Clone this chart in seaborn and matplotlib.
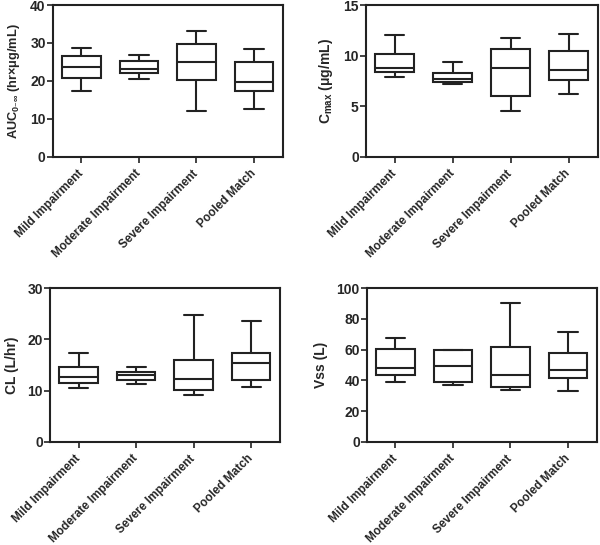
import matplotlib
matplotlib.use("Agg")
import matplotlib.pyplot as plt
import pandas as pd
import seaborn as sns

sns.set_theme(style="ticks")
plt.rcParams["font.family"] = ["Liberation Sans", "DejaVu Sans"]
plt.rcParams["font.weight"] = "bold"
plt.rcParams["mathtext.default"] = "regular"

groups = ["Mild Impairment", "Moderate Impairment", "Severe Impairment", "Pooled Match"]

# five-number summaries per group: min, Q1, median, Q3, max
auc = [[17.4, 20.8, 23.7, 26.5, 28.6],
       [20.4, 22.2, 23.0, 25.2, 26.8],
       [12.1, 20.3, 24.9, 29.8, 33.2],
       [12.7, 17.4, 19.7, 25.1, 28.4]]
cmax = [[7.85, 8.38, 8.74, 10.2, 12.0],
        [7.16, 7.39, 7.72, 8.3, 9.4],
        [4.55, 5.97, 8.77, 10.68, 11.74],
        [6.23, 7.56, 8.55, 10.42, 12.17]]
cl = [[10.6, 11.4, 12.7, 14.6, 17.35],
      [11.2, 12.0, 13.1, 13.7, 14.7],
      [9.1, 10.2, 12.2, 15.9, 24.7],
      [10.7, 12.1, 15.3, 17.35, 23.6]]
vss = [[39.1, 43.3, 48.3, 60.4, 67.4],
       [36.7, 38.7, 49.1, 59.6, 59.8],
       [33.9, 35.4, 43.3, 62.0, 90.7],
       [33.0, 41.3, 46.7, 57.8, 71.5]]

panels = [
    (auc, "AUC$_{0\u2013\u221e}$ (hr\u00d7\u03bcg/mL)", 9.2, 40, 10, [0.0878, 0.7125, 0.3833, 0.2783]),
    (cmax, "C$_{max}$ (\u03bcg/mL)", 10, 15, 5, [0.6095, 0.7125, 0.3867, 0.2783]),
    (cl, "CL (L/hr)", 10, 30, 10, [0.0833, 0.1895, 0.3833, 0.2815]),
    (vss, "Vss (L)", 10, 100, 20, [0.6112, 0.1895, 0.3833, 0.2815]),
]

fig = plt.figure(figsize=(6, 5.45), dpi=100)

for vals, label, lsize, ymax, step, pos in panels:
    ax = fig.add_axes(pos)
    rows = []
    for g, v in zip(groups, vals):
        for x in v:
            rows.append({"group": g, "value": x})
    df = pd.DataFrame(rows)
    sns.boxplot(data=df, x="group", y="value", order=groups, whis=(0, 100),
                color="white", linecolor="#222222", linewidth=1.5, width=0.67,
                ax=ax)
    ax.set_ylim(0, ymax)
    ax.set_xlim(-0.5, 3.5)
    ax.set_yticks(range(0, ymax + 1, step))
    ax.set_xlabel("")
    ax.set_ylabel(label, fontsize=lsize, fontweight="bold", labelpad=6)
    ax.tick_params(direction="out", length=4, width=1.2, color="#222222",
                   labelsize=10, pad=1)
    ax.set_xticks(range(len(groups)))
    ax.set_xticklabels(groups, rotation=45, ha="right", va="center",
                       rotation_mode="anchor", fontsize=8.5, fontweight="bold")
    ax.tick_params(axis="x", pad=7)
    for t in ax.get_yticklabels():
        t.set_fontweight("bold")
    for s in ax.spines.values():
        s.set_visible(True)
        s.set_linewidth(1.5)
        s.set_color("#222222")

fig.savefig("out.png", dpi=100)
